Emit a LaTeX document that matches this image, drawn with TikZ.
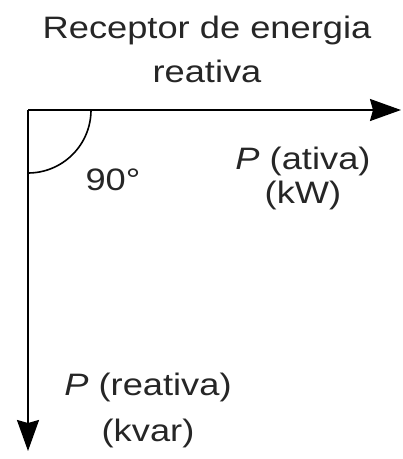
\documentclass[tikz,border=0pt]{standalone}
\usepackage{fontspec}
\setmainfont{Liberation Sans}[FakeStretch=1.17]
\usetikzlibrary{arrows.meta, positioning, calc}

\begin{document}
\begin{tikzpicture}[
    x=1pt, y=-1pt,
    axis/.style={line width=2pt, ->},
    lbl/.style={align=center, text=black!85, inner sep=0pt,
                font=\fontsize{31}{34}\selectfont},
    ttl/.style={align=center, text=black!85, inner sep=0pt,
                font=\fontsize{31}{44}\selectfont},
    >={Stealth[length=31pt, width=22pt, inset=3pt]},
]
\useasboundingbox (0,0) rectangle (403,459);
  \node[ttl] (title) at (207,49) {Receptor de energia\\reativa};
  \coordinate (O) at (28,110);
  \coordinate (Pend) at (401,110);
  \coordinate (Qend) at (28,451);
  \draw[axis] (O) -- (Pend);
  \draw[axis] (O) -- (Qend);
  \draw[line width=1.6pt] ($(O)+(63,0)$) arc[start angle=0, end angle=90, radius=63];
  \node[lbl, anchor=base] (ang) at (113,190) {90°};
  \node[lbl] (act) at (303,178) {\textit{P} (ativa)\\(kW)};
  \node[lbl] (rea) at (148,410) {\textit{P} (reativa)\\[12pt](kvar)};
\end{tikzpicture}
\end{document}
